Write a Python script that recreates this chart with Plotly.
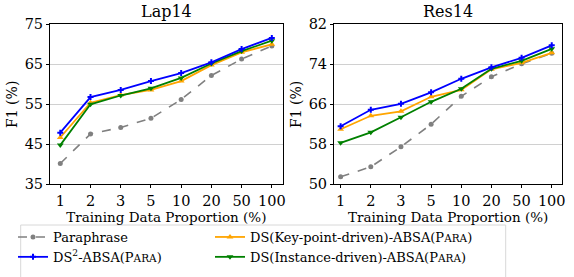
import plotly.graph_objects as go
from plotly.subplots import make_subplots

proportions = ["1", "2", "3", "5", "10", "20", "50", "100"]

lap_paraphrase = [40.2, 47.6, 49.2, 51.5, 56.2, 62.2, 66.3, 69.6]
lap_ds2 = [47.9, 56.8, 58.6, 60.8, 62.8, 65.5, 68.8, 71.6]
lap_keypoint = [46.7, 55.4, 57.3, 58.6, 60.8, 64.8, 68.0, 70.0]
lap_instance = [44.8, 55.0, 57.2, 59.0, 61.6, 65.2, 68.3, 70.9]

res_paraphrase = [51.5, 53.5, 57.5, 62.0, 67.6, 71.5, 74.1, 76.2]
res_ds2 = [61.6, 64.9, 66.1, 68.4, 71.1, 73.4, 75.3, 77.8]
res_keypoint = [61.0, 63.7, 64.6, 67.5, 68.9, 73.0, 74.3, 76.3]
res_instance = [58.3, 60.4, 63.4, 66.5, 69.1, 73.1, 74.7, 77.1]

lap_yticks = [35, 45, 55, 65, 75]
res_yticks = [50, 58, 66, 74, 82]

small = "<span style='font-size:10.5px'>ARA</span>"
names = {
    "para": "Paraphrase",
    "kp": "DS(Key-point-driven)-ABSA(P" + small + ")",
    "ds2": "DS<sup>2</sup>-ABSA(P" + small + ")",
    "inst": "DS(Instance-driven)-ABSA(P" + small + ")",
}
styles = {
    "para": dict(color="#808080", dash="dash", symbol="circle", size=5, legend="legend"),
    "kp": dict(color="#FFA500", dash="solid", symbol="triangle-up", size=6, legend="legend2"),
    "ds2": dict(color="#0000FF", dash="solid", symbol="cross", size=5, legend="legend"),
    "inst": dict(color="#008000", dash="solid", symbol="triangle-down", size=6, legend="legend2"),
}
ranks = {"para": 1, "ds2": 2, "kp": 1, "inst": 2}

FONT = "DejaVu Serif"
fig = make_subplots(rows=1, cols=2)

panels = [
    (1, {"para": lap_paraphrase, "kp": lap_keypoint, "inst": lap_instance, "ds2": lap_ds2}),
    (2, {"para": res_paraphrase, "kp": res_keypoint, "inst": res_instance, "ds2": res_ds2}),
]
for col, data in panels:
    for key in ["para", "kp", "inst", "ds2"]:
        s = styles[key]
        fig.add_trace(go.Scatter(
            x=proportions, y=data[key], mode="lines+markers", name=names[key],
            line=dict(color=s["color"], width=1.8 if key != "para" else 1.6, dash=s["dash"]),
            marker=dict(symbol=s["symbol"], size=s["size"], color=s["color"]),
            legend=s["legend"], legendrank=ranks[key], showlegend=(col == 1),
        ), row=1, col=col)

H, W = 277, 574
ytop = 1 - 24.3 / H
ybot = 1 - 184.3 / H

axis_common = dict(
    showline=True, linecolor="black", linewidth=1, mirror=True,
    ticks="outside", ticklen=3, tickcolor="black", tickwidth=1,
    tickfont=dict(family=FONT, size=14.5, color="black"),
    zeroline=False,
)
fig.update_xaxes(type="category", showgrid=False, **axis_common)
fig.update_yaxes(showgrid=True, gridcolor="#d0d0d0", gridwidth=1, **axis_common)

leg_common = dict(
    orientation="v", y=1 - 222 / H, xanchor="left", yanchor="top",
    borderwidth=0, bgcolor="rgba(0,0,0,0)",
    font=dict(family=FONT, size=13, color="black"),
    itemwidth=30,
)

xt = dict(text="Training Data Proportion (%)", standoff=1, font=dict(family=FONT, size=13.5))
yt = dict(text="F1 (%)", standoff=3, font=dict(family=FONT, size=14))

fig.update_layout(
    width=W, height=H,
    margin=dict(l=0, r=0, t=0, b=0, autoexpand=False),
    plot_bgcolor="white", paper_bgcolor="white",
    font=dict(family=FONT, size=14, color="black"),
    xaxis=dict(domain=[50 / W, 282.7 / W], range=[-0.34, 7.36], title=xt),
    xaxis2=dict(domain=[334 / W, 562.3 / W], range=[-0.22, 7.35], title=xt),
    yaxis=dict(domain=[ybot, ytop], range=[35, 75], tickvals=lap_yticks, title=yt),
    yaxis2=dict(domain=[ybot, ytop], range=[50, 82], tickvals=res_yticks, title=yt),
    legend=dict(x=13 / W, **leg_common),
    legend2=dict(x=210 / W, **leg_common),
    shapes=[dict(type="rect", xref="paper", yref="paper",
                 x0=20.7 / W, x1=505.7 / W, y0=-0.2, y1=1 - 225 / H,
                 line=dict(color="#d8d8d8", width=1), fillcolor="rgba(0,0,0,0)")],
    annotations=[
        dict(text="Lap14", x=(50 + 282.7) / 2 / W, y=ytop, xref="paper", yref="paper",
             xanchor="center", yanchor="bottom", yshift=1, showarrow=False,
             font=dict(family=FONT, size=16, color="black")),
        dict(text="Res14", x=(334 + 562.3) / 2 / W, y=ytop, xref="paper", yref="paper",
             xanchor="center", yanchor="bottom", yshift=1, showarrow=False,
             font=dict(family=FONT, size=16, color="black")),
    ],
)

fig.write_html(
    "out.html",
    config={"displayModeBar": False},
    post_script="document.body.style.margin='0';document.body.style.overflow='hidden';",
)
